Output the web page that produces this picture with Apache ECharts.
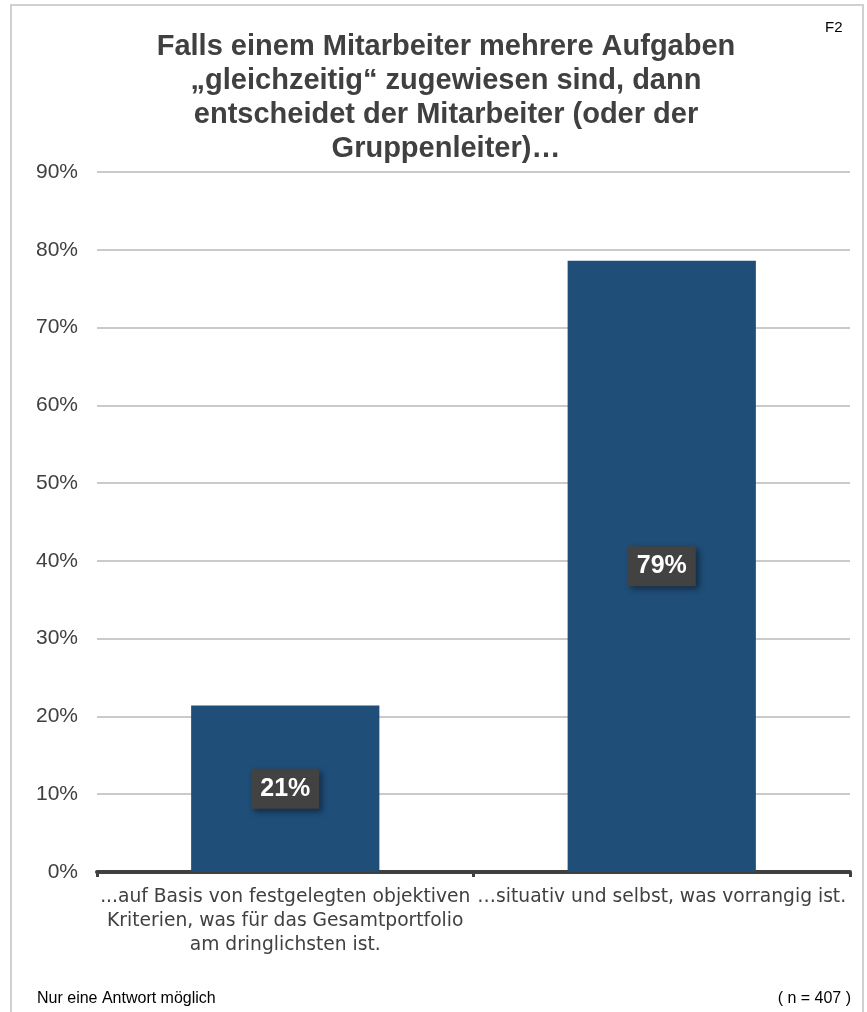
<!DOCTYPE html>
<html>
<head>
<meta charset="utf-8">
<script src="https://cdn.jsdelivr.net/npm/echarts@6/dist/echarts.min.js"></script>
<style>
html,body{margin:0;padding:0;background:#fff;}
#chart{width:867px;height:1012px;}
</style>
</head>
<body>
<div id="chart"></div>
<script>
const titleText = 'Falls einem Mitarbeiter mehrere Aufgaben\n„gleichzeitig“ zugewiesen sind, dann\nentscheidet der Mitarbeiter (oder der\nGruppenleiter)…';
const categories = [
  '...auf Basis von festgelegten objektiven\nKriterien, was für das Gesamtportfolio\nam dringlichsten ist.',
  '…situativ und selbst, was vorrangig ist.'
];
const values = [21.4, 78.6];
const valueLabels = ['21%', '79%'];
const yTicks = [0, 10, 20, 30, 40, 50, 60, 70, 80, 90];
const footLeft = 'Nur eine Antwort möglich';
const footRight = '( n = 407 )';
const cornerTag = 'F2';

const FONT = '"Liberation Sans", Arial, Helvetica, sans-serif';
const XFONT = '"DejaVu Sans", sans-serif';
const chart = echarts.init(document.getElementById('chart'), null, {renderer: 'canvas'});
chart.setOption({
  backgroundColor: '#ffffff',
  animation: false,
  title: {
    text: titleText,
    left: 441, top: 25, textAlign: 'center',
    textStyle: {fontFamily: FONT, fontSize: 29, fontWeight: 'bold', color: '#404040', lineHeight: 34}
  },
  graphic: [
    {type: 'rect', shape: {x: 11, y: 5, width: 852, height: 1030},
     style: {fill: 'none', stroke: '#d0d0d0', lineWidth: 2}, silent: true},
    {type: 'text', left: 825, top: 20, style: {text: cornerTag, font: '15px ' + FONT, fill: '#000'}},
    {type: 'text', left: 37, top: 991, style: {text: footLeft, font: '16px ' + FONT, fill: '#000'}},
    {type: 'text', right: 16, top: 991, style: {text: footRight, font: '16px ' + FONT, fill: '#000'}}
  ],
  grid: {left: 97, right: 17, top: 172, bottom: 140, containLabel: false},
  xAxis: {
    type: 'category',
    data: categories,
    axisLine: {lineStyle: {color: '#404040', width: 4}},
    axisTick: {show: true, length: 5, lineStyle: {color: '#404040', width: 3}},
    axisLabel: {fontFamily: XFONT, fontSize: 18.7, color: '#404040', lineHeight: 24, margin: 13, interval: 0}
  },
  yAxis: {
    type: 'value', min: 0, max: 90, interval: 10,
    axisLine: {show: false}, axisTick: {show: false},
    splitLine: {lineStyle: {color: '#b8b8b8', width: 1.5}},
    axisLabel: {fontFamily: FONT, fontSize: 21, color: '#404040', margin: 19,
      formatter: v => yTicks.includes(v) ? v + '%' : ''}
  },
  series: [{
    type: 'bar',
    data: values.map((v, i) => ({value: v, label: {formatter: valueLabels[i]}})),
    barWidth: '50%',
    itemStyle: {color: '#1f4e79'},
    label: {
      show: true, position: 'inside',
      fontFamily: FONT, fontSize: 25, fontWeight: 'bold', color: '#ffffff',
      backgroundColor: '#424242', padding: [8, 9, 7, 9],
      shadowColor: 'rgba(0,0,0,0.45)', shadowBlur: 6, shadowOffsetX: 3, shadowOffsetY: 3
    }
  }]
});
</script>
</body>
</html>
